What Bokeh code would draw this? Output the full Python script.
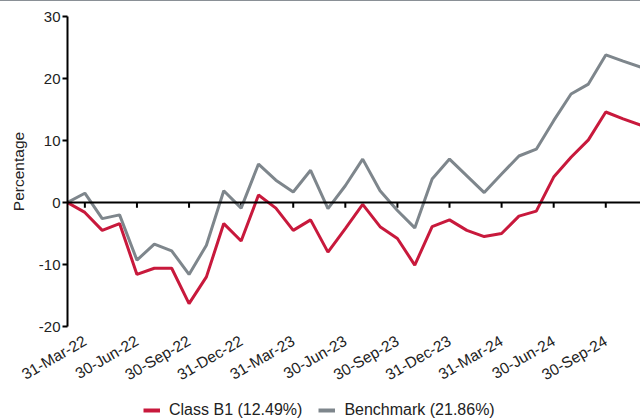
from bokeh.plotting import figure
from bokeh.layouts import column
from bokeh.models import ColumnDataSource, FixedTicker, Span, Legend, LegendItem, Range1d
from bokeh.embed import file_html
from bokeh.resources import INLINE

months = ["Feb-22", "Mar-22", "Apr-22", "May-22", "Jun-22", "Jul-22", "Aug-22", "Sep-22",
          "Oct-22", "Nov-22", "Dec-22",
          "Jan-23", "Feb-23", "Mar-23", "Apr-23", "May-23", "Jun-23", "Jul-23", "Aug-23",
          "Sep-23", "Oct-23", "Nov-23", "Dec-23",
          "Jan-24", "Feb-24", "Mar-24", "Apr-24", "May-24", "Jun-24", "Jul-24", "Aug-24",
          "Sep-24", "Oct-24", "Nov-24"]

class_b1 = [0, -1.6, -4.5, -3.4, -11.6, -10.6, -10.6, -16.3, -12.0, -3.4, -6.2,
            1.2, -0.9, -4.5, -2.8, -8.0, -4.2, -0.3, -3.9, -5.8, -10.1, -3.9, -2.8,
            -4.5, -5.5, -5.0, -2.2, -1.4, 4.1, 7.3, 10.1, 14.6, 13.5, 12.49]

benchmark = [0, 1.5, -2.6, -2.0, -9.3, -6.7, -7.8, -11.6, -6.9, 1.9, -0.9,
             6.2, 3.6, 1.7, 5.2, -1.0, 2.7, 7.0, 1.9, -1.3, -4.1, 3.8, 7.0,
             4.3, 1.6, 4.6, 7.5, 8.6, 13.2, 17.5, 19.1, 23.8, 22.8, 21.86]

tick_months = ["Mar-22", "Jun-22", "Sep-22", "Dec-22", "Mar-23", "Jun-23", "Sep-23",
               "Dec-23", "Mar-24", "Jun-24", "Sep-24"]
tick_labels = ["31-Mar-22", "30-Jun-22", "30-Sep-22", "31-Dec-22", "31-Mar-23", "30-Jun-23",
               "30-Sep-23", "31-Dec-23", "31-Mar-24", "30-Jun-24", "30-Sep-24"]
y_ticks = [-20, -10, 0, 10, 20, 30]
y_tick_labels = ["-20", "-10", "0", "10", "20", "30"]

legend_b1 = "Class B1 (12.49%)"
legend_bm = "Benchmark (21.86%)"

RED = "#C8193C"
GRAY = "#7E868C"
FONT = "Liberation Sans"

x_idx = list(range(len(months)))
tick_idx = [months.index(m) for m in tick_months]

src = ColumnDataSource(dict(x=x_idx, b1=class_b1, bm=benchmark))

p = figure(width=640, height=395, output_backend="svg", toolbar_location=None,
           x_range=Range1d(0, len(months) - 1), y_range=Range1d(-20, 30),
           min_border_left=67, min_border_top=16, min_border_right=0, min_border_bottom=69)
p.outline_line_color = None
p.grid.visible = False
p.background_fill_color = "white"
p.border_fill_color = None
# thin grey rule along the very top edge of the page
p.styles = {"box-shadow": "inset 0 1px 0 #8A9096"}

# zero line
p.add_layout(Span(location=0, dimension="width", line_color="black", line_width=2))
# tick marks hanging from zero line
tick_src = ColumnDataSource(dict(x=tick_idx, y0=[0] * len(tick_idx), y1=[-0.85] * len(tick_idx)))
p.segment(x0="x", y0="y0", x1="x", y1="y1", source=tick_src, line_color="black", line_width=2)

r_bm = p.line("x", "bm", source=src, line_color=GRAY, line_width=3)
r_b1 = p.line("x", "b1", source=src, line_color=RED, line_width=3)

# y axis
p.yaxis.ticker = FixedTicker(ticks=y_ticks)
p.yaxis.major_label_overrides = {t: l for t, l in zip(y_ticks, y_tick_labels)}
p.yaxis.minor_tick_line_color = None
p.yaxis.major_tick_in = 0
p.yaxis.major_tick_out = 5
p.yaxis.major_tick_line_width = 2
p.yaxis.axis_line_width = 2
p.yaxis.axis_line_color = "black"
p.yaxis.major_tick_line_color = "black"
p.yaxis.major_label_text_font = FONT
p.yaxis.major_label_text_font_size = "15px"
p.yaxis.major_label_text_color = "#222222"
p.yaxis.major_label_standoff = 2
p.yaxis.axis_label = "Percentage"
p.yaxis.axis_label_text_font = FONT
p.yaxis.axis_label_text_font_size = "15.5px"
p.yaxis.axis_label_text_font_style = "normal"
p.yaxis.axis_label_text_color = "#222222"
p.yaxis.axis_label_standoff = 9

# x axis (labels only)
p.xaxis.ticker = FixedTicker(ticks=tick_idx)
p.xaxis.major_label_overrides = {i: l for i, l in zip(tick_idx, tick_labels)}
p.xaxis.axis_line_color = None
p.xaxis.major_tick_line_color = None
p.xaxis.minor_tick_line_color = None
p.xaxis.major_label_orientation = 0.5236
p.xaxis.major_label_text_font = FONT
p.xaxis.major_label_text_font_size = "15.5px"
p.xaxis.major_label_text_color = "#222222"
p.xaxis.major_label_standoff = 7

# legend strip below the chart (sample lines sit outside the visible range)
lg = figure(width=640, height=24, output_backend="svg", toolbar_location=None,
            x_range=Range1d(0, 1), y_range=Range1d(0, 1), min_border=0)
lg.axis.visible = False
lg.grid.visible = False
lg.outline_line_color = None
lg_src = ColumnDataSource(dict(x=[-3, -2], y=[-3, -3]))
lg_b1 = lg.line("x", "y", source=lg_src, line_color=RED, line_width=4)
lg_bm = lg.line("x", "y", source=lg_src, line_color=GRAY, line_width=4)
legend = Legend(items=[LegendItem(label=legend_b1, renderers=[lg_b1]),
                       LegendItem(label=legend_bm, renderers=[lg_bm])],
                orientation="horizontal", location=(76, 0),
                label_text_font=FONT, label_text_font_size="16px", label_text_color="#222222",
                glyph_width=17, glyph_height=16, label_standoff=9, spacing=16,
                border_line_color=None, background_fill_alpha=0, padding=0, margin=0)
lg.add_layout(legend, "center")

layout = column(p, lg, spacing=0)
open("out.html", "w").write(file_html(layout, INLINE))
